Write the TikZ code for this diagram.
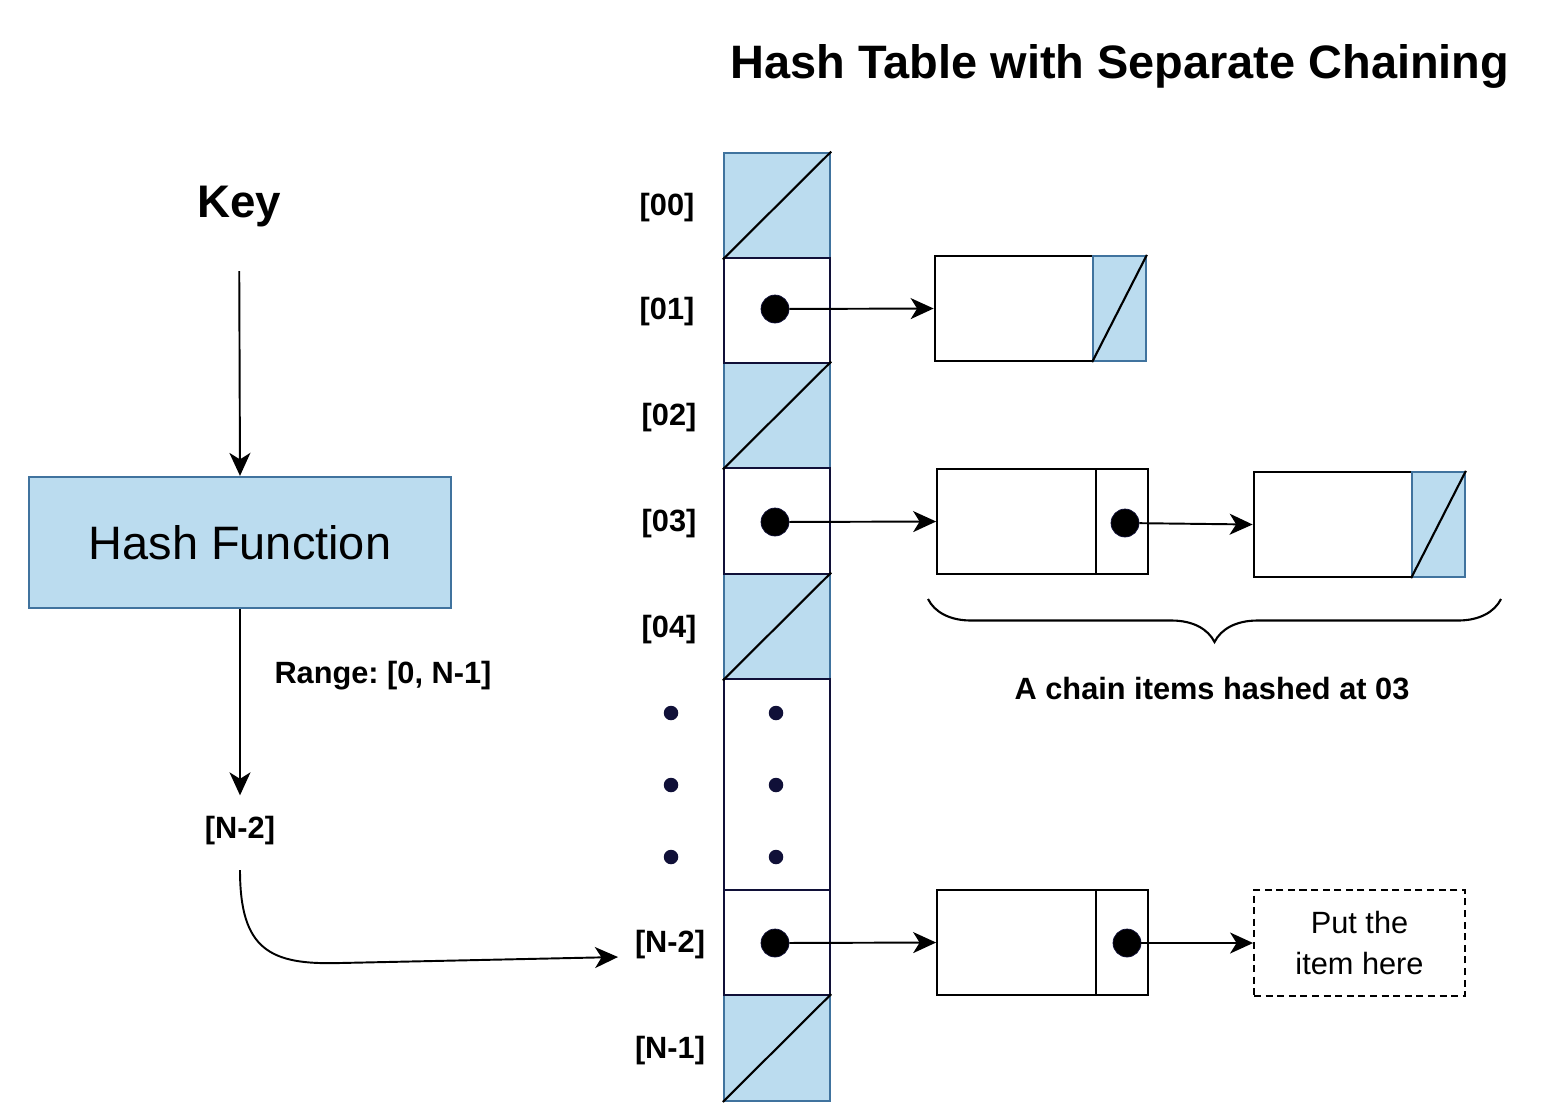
\documentclass[tikz,border=0pt]{standalone}
\usepackage{fontspec}
\setmainfont{Liberation Sans}
\frenchspacing
\usetikzlibrary{arrows.meta,positioning,decorations.pathreplacing}
\definecolor{cellblue}{RGB}{187,220,239}
\definecolor{edgeblue}{RGB}{64,115,158}
\definecolor{navy}{RGB}{16,16,56}
\tikzset{
  lbl/.style={font=\fontsize{17.5}{21}\selectfont\bfseries, inner sep=2pt},
  nilcell/.style={draw=edgeblue, fill=cellblue, line width=1.3pt, minimum width=2.12cm, minimum height=2.11cm, inner sep=0pt},
  ptrcell/.style={draw=navy, fill=white, line width=1.3pt, minimum width=2.12cm, minimum height=2.11cm, inner sep=0pt},
  datacell/.style={draw=black, fill=white, line width=1.3pt, minimum width=3.17cm, minimum height=2.1cm, inner sep=0pt},
  linkcell/.style={draw=black, fill=white, line width=1.3pt, minimum width=1.05cm, minimum height=2.1cm, inner sep=0pt},
  nilnext/.style={draw=edgeblue, fill=cellblue, line width=1.3pt, minimum width=1.05cm, minimum height=2.1cm, inner sep=0pt},
  bigdot/.style={circle, draw=navy, fill=black, minimum size=0.56cm, inner sep=0pt},
  smalldot/.style={circle, fill=navy, minimum size=0.29cm, inner sep=0pt},
  arr/.style={-{Stealth[length=0.46cm, width=0.42cm, inset=0.13cm]}, line width=1.1pt},
  slash/.style={line width=1.2pt}
}
\begin{document}
\begin{tikzpicture}[x=0.02cm, y=-0.02cm]
  \useasboundingbox (0,0) rectangle (1550,1117);
  % title
  \node[font=\fontsize{26.7}{32}\selectfont\bfseries] (ttl) at (1120,66) {Hash Table with Separate Chaining};

  % left side: key and hash function
  \node[font=\fontsize{26}{31}\selectfont\bfseries] (key) at (239,207) {Key};
  \node[draw=edgeblue, fill=cellblue, line width=1.3pt, minimum width=8.44cm, minimum height=2.62cm,
        font=\fontsize{26.7}{32}\selectfont] (hash) at (240,542.5) {Hash Function};
  \node[lbl] (lN2) at (240,831) {[N-2]};
  \node[lbl] (rng) at (383,676) {Range: [0, N-1]};
  \draw[arr, shorten <=0.75cm] (key) -- (hash.north);
  \draw[arr, shorten >=0.35cm] (hash.south) -- (lN2.north);

  % table cells
  \node[nilcell] (c00) at (777,205.5) {};
  \node[nilcell] (c02) at (777,415.5) {};
  \node[nilcell] (c04) at (777,626.5) {};
  \node[nilcell] (cN1) at (777,1048) {};
  \node[ptrcell] (c01) at (777,310.5) {};
  \node[ptrcell] (c03) at (777,521) {};
  \node[ptrcell, minimum height=4.22cm] (cdots) at (777,784.5) {};
  \node[ptrcell] (cN2) at (777,942.5) {};
  \draw[slash] (c00.south west) -- (c00.north east);
  \draw[slash] (c02.south west) -- (c02.north east);
  \draw[slash] (c04.south west) -- (c04.north east);
  \draw[slash] (cN1.south west) -- (cN1.north east);

  % index labels
  \node[lbl] (i00) at (667,208) {[00]};
  \node[lbl] (i01) at (667,312) {[01]};
  \node[lbl] (i02) at (669,418) {[02]};
  \node[lbl] (i03) at (669,524) {[03]};
  \node[lbl] (i04) at (669,630) {[04]};
  \node[lbl] (iN2) at (670,945) {[N-2]};
  \node[lbl] (iN1) at (670,1051) {[N-1]};
  \foreach \y [count=\k] in {713,785,857} {
    \node[smalldot] (el\k) at (671,\y) {};
    \node[smalldot] (er\k) at (776,\y) {};
  }

  % chain at 01
  \node[datacell] (n1) at (1014,308.5) {};
  \node[nilnext, right=-1.3pt of n1] (n1p) {};
  \draw[slash] (n1p.south west) -- (n1p.north east);

  % chain at 03
  \node[datacell] (n3a) at (1016.5,521.5) {};
  \node[linkcell, right=-1.3pt of n3a] (n3ap) {};
  \node[datacell] (n3b) at (1333,524.5) {};
  \node[nilnext, right=-1.3pt of n3b] (n3bp) {};
  \draw[slash] (n3bp.south west) -- (n3bp.north east);

  % chain at N-2
  \node[datacell] (nN) at (1016.5,942.5) {};
  \node[linkcell, right=-1.3pt of nN] (nNp) {};
  \node[draw, dash pattern=on 4pt off 2.6pt, line width=1.1pt, minimum width=4.22cm, minimum height=2.12cm,
        align=center, font=\fontsize{17.5}{23}\selectfont] (put) at (1359.5,943) {Put the\\item here};

  % pointers
  \node[bigdot] (d01) at (775,309) {};
  \node[bigdot] (d03) at (775,522) {};
  \node[bigdot] (dN2) at (775,943) {};
  \node[bigdot] (d3a) at (1125,523) {};
  \node[bigdot] (dNa) at (1127,943) {};
  \draw[arr] (d01) -- (n1.west);
  \draw[arr] (d03) -- (n3a.west);
  \draw[arr] (d3a) -- (n3b.west);
  \draw[arr] (dN2) -- (nN.west);
  \draw[arr] (dNa) -- (put.west);

  % brace under chain at 03
  \coordinate (bl) at (928,599);
  \coordinate (br) at (1501,599);
  \draw[line width=1.2pt, decorate, decoration={brace, mirror, amplitude=0.86cm}] (bl) -- (br);
  \node[lbl] (chn) at (1212,689) {A chain items hashed at 03};

  % hashed key goes to slot N-2
  \coordinate (cs) at (240,870);
  \coordinate (ce) at (618,957);
  \draw[arr] (cs) .. controls (240,950) and (270,965) .. (340,963) -- (ce);
\end{tikzpicture}
\end{document}
